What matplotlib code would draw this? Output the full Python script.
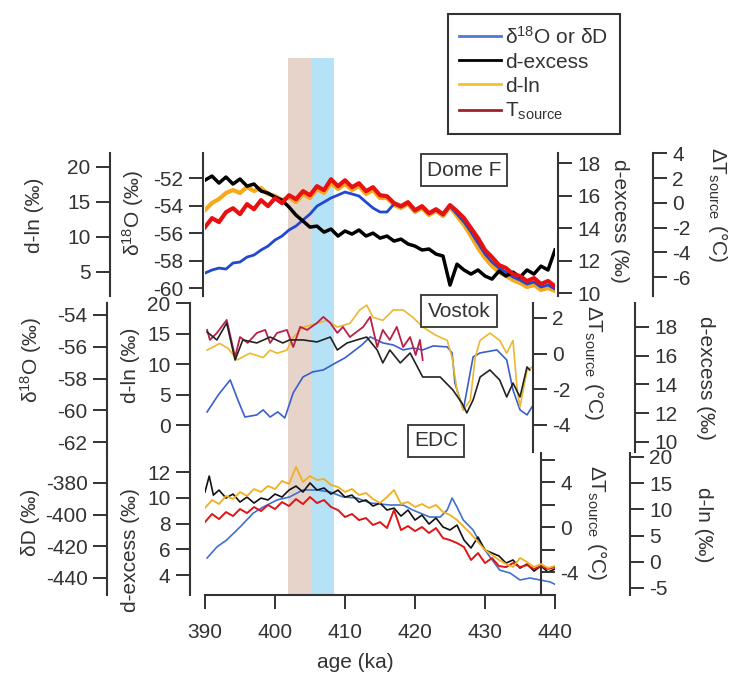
import matplotlib
matplotlib.use('Agg')
import matplotlib.pyplot as plt
import matplotlib.transforms as mtransforms
from matplotlib.patches import Rectangle
from matplotlib.lines import Line2D

plt.rcParams['font.family'] = ['Liberation Sans', 'DejaVu Sans']
plt.rcParams['font.size'] = 15
plt.rcParams['mathtext.fontset'] = 'custom'
plt.rcParams['mathtext.rm'] = 'Liberation Sans'
plt.rcParams['mathtext.it'] = 'Liberation Sans:italic'
plt.rcParams['axes.unicode_minus'] = False

# ---------------- data ----------------
# Dome F (1 ka steps)
domef_age = list(range(390, 441))
domef_d18o = [-58.91, -58.69, -58.55, -58.62, -58.18, -58.11, -57.75, -57.6, -57.24, -56.95,
              -56.51, -56.22, -55.78, -55.49, -55.05, -54.62, -54.04, -53.75, -53.45, -53.24,
              -53.02, -53.16, -53.31, -53.75, -54.18, -54.47, -54.47, -53.89, -54.11, -53.82,
              -54.4, -54.11, -54.62, -54.33, -54.69, -54.04, -54.62, -55.2, -55.93, -56.73,
              -57.53, -58.11, -58.55, -58.84, -59.2, -59.42, -59.71, -59.56, -59.93, -59.78, -60.07]
domef_dexcess = [16.95, 17.2, 16.77, 17.14, 16.71, 17.02, 16.58, 16.71, 16.28, 16.15,
                 15.91, 15.72, 15.29, 14.8, 14.43, 14.06, 14.12, 13.75, 13.94, 13.51,
                 13.82, 13.63, 13.88, 13.51, 13.69, 13.38, 13.51, 13.2, 13.32, 13.02,
                 12.89, 12.65, 12.71, 12.4, 12.28, 10.49, 11.78, 11.42, 11.17, 11.42,
                 11.05, 10.86, 11.35, 11.05, 11.29, 10.98, 11.42, 11.17, 11.66, 11.42, 12.65]
domef_dln = [13.86, 14.86, 15.43, 16.29, 16.71, 16.29, 17.14, 16.57, 17.0, 16.14,
             15.86, 15.29, 15.71, 15.0, 16.14, 15.57, 16.86, 16.29, 17.71, 16.86,
             17.57, 16.71, 17.29, 16.14, 16.71, 15.57, 15.57, 14.57, 14.14, 14.71,
             13.57, 14.14, 13.14, 13.71, 13.0, 14.29, 13.0, 11.71, 10.14, 8.43,
             7.0, 5.86, 5.0, 4.43, 3.86, 3.43, 2.86, 3.14, 2.43, 2.71, 2.29]
domef_tsource = [-1.97, -1.24, -1.56, -0.76, -0.44, -0.92, -0.11, -0.52, 0.21, -0.27,
                 0.37, -0.03, 0.61, 0.29, 0.94, 0.61, 1.34, 1.02, 1.9, 1.34,
                 1.82, 1.26, 1.58, 0.94, 1.26, 0.61, 0.53, -0.03, -0.27, 0.05,
                 -0.6, -0.27, -0.84, -0.52, -0.92, -0.19, -0.68, -1.24, -2.05, -2.85,
                 -3.82, -4.39, -5.03, -5.27, -5.76, -5.92, -6.32, -6.08, -6.56, -6.32, -6.73]

# Vostok
vostok_age_d18o = [390.3, 391.9, 393.6, 394.7, 395.7, 397.4, 398.3, 399.3, 400.4, 401.4,
                   402.6, 404.0, 405.4, 406.9, 408.9, 410.0, 411.1, 412.4, 413.6, 415.4,
                   416.9, 418.3, 419.7, 421.1, 422.6, 424.6, 425.3, 425.7, 426.9, 428.3,
                   429.3, 431.7, 433.1, 434.0, 435.0, 436.0, 436.7]
vostok_d18o = [-60.1, -59.03, -58.09, -59.35, -60.42, -60.29, -59.97, -60.42, -60.1, -60.48,
               -58.9, -57.9, -57.58, -57.46, -56.96, -56.7, -56.33, -55.89, -55.38, -55.76,
               -55.89, -56.2, -56.08, -56.2, -55.95, -56.01, -56.39, -58.28, -59.97, -56.64,
               -56.39, -56.2, -56.83, -58.72, -59.97, -60.29, -59.79]
vostok_age_dln = [390.3, 392.1, 393.3, 394.6, 396.4, 398.3, 399.3, 400.3, 401.7, 402.6,
                  404.0, 406.0, 407.4, 408.9, 410.7, 412.1, 413.1, 414.0, 415.4, 416.9,
                  418.3, 419.7, 421.1, 422.9, 424.6, 425.3, 426.0, 426.9, 427.9, 428.6,
                  429.3, 430.7, 432.1, 433.1, 434.0, 434.6, 435.0, 436.0, 436.7]
vostok_dln = [12.3, 13.4, 12.6, 10.7, 11.8, 11.1, 12.3, 11.8, 12.3, 14.4,
              16.1, 16.7, 17.2, 16.1, 16.7, 18.9, 19.7, 17.7, 17.2, 18.9,
              18.9, 17.7, 16.1, 14.8, 13.9, 11.1, 5.7, 2.5, 4.1, 11.1,
              13.9, 15.1, 13.9, 11.8, 13.9, 5.7, 3.0, 9.0, 9.5]
vostok_age_tsource = [390.3, 390.7, 391.7, 393.1, 394.3, 395.0, 396.1, 397.4, 398.6, 399.3,
                      400.3, 401.7, 402.6, 403.6, 404.6, 406.0, 406.9, 407.9, 408.9, 409.7,
                      410.7, 412.6, 413.6, 414.6, 415.4, 416.4, 417.4, 418.3, 419.3, 420.1,
                      420.7, 421.1]
vostok_tsource = [1.33, 0.77, 1.16, 1.89, -0.19, 0.93, 0.6, 1.16, 1.33, 0.6,
                  1.16, 1.33, 0.37, 1.5, 1.33, 1.72, 2.06, 1.72, 1.16, 1.5,
                  0.93, 1.5, 2.06, 0.37, 1.33, 0.77, 1.5, 0.37, 0.93, -0.08,
                  0.77, -0.36]
vostok_age_dexcess = [390.3, 391.7, 393.1, 394.3, 395.4, 397.4, 399.3, 401.1, 402.1, 404.0,
                      406.0, 407.9, 408.9, 410.3, 411.7, 413.1, 414.6, 415.4, 416.4, 417.9,
                      419.3, 421.1, 423.6, 425.4, 426.7, 427.4, 428.3, 429.3, 430.7, 432.1,
                      433.1, 434.0, 435.0, 436.0, 436.4]
vostok_dexcess = [17.65, 17.1, 18.28, 15.7, 17.1, 16.89, 17.3, 16.89, 17.1, 17.1,
                  16.96, 17.3, 16.4, 16.89, 17.1, 17.3, 16.4, 15.5, 16.4, 15.5,
                  16.19, 14.52, 14.52, 13.62, 12.71, 12.02, 12.92, 14.52, 15.01, 14.31,
                  13.13, 14.1, 13.13, 15.22, 15.01]

# EDC
edc_age_dd = [390.3, 391.7, 393.1, 395.0, 396.9, 398.3, 400.3, 402.1, 404.0, 406.0,
              407.9, 409.7, 411.7, 413.6, 416.4, 418.3, 419.7, 422.1, 423.6, 424.6,
              425.3, 426.0, 426.9, 428.3, 429.3, 430.7, 432.1, 433.6, 435.0, 436.4,
              437.9, 439.3, 440.0]
edc_dd = [-427.4, -420.4, -416.0, -407.8, -399.0, -395.2, -390.7, -388.8, -384.4, -384.4,
          -385.7, -388.8, -389.5, -392.6, -393.9, -393.9, -397.1, -401.5, -401.5, -397.1,
          -389.5, -395.2, -403.4, -409.7, -417.9, -426.7, -435.0, -436.9, -441.3, -440.0,
          -441.3, -442.5, -444.0]
edc_age_dexcess = [390.0, 390.6, 391.2] + list(range(392, 441))
edc_dexcess = [10.45, 11.69, 10.21, 10.6, 9.98, 10.29, 9.67, 10.06, 9.59, 9.98,
               9.83, 10.29, 10.06, 10.6, 10.91, 10.45, 11.15, 10.6, 10.76, 10.29,
               10.6, 10.06, 10.21, 9.67, 9.83, 9.36, 9.59, 9.05, 9.2, 8.58,
               9.05, 8.27, 8.66, 7.96, 8.43, 7.73, 7.5, 7.88, 6.72, 6.1,
               6.95, 5.94, 5.71, 5.48, 4.93, 5.17, 4.54, 4.85, 4.31, 4.7,
               4.23, 4.47]
edc_age = list(range(390, 441))
edc_tsource = [0.44, 1.16, 0.71, 1.33, 0.98, 1.6, 1.24, 1.78, 1.42, 1.96,
               1.6, 2.22, 1.87, 2.49, 2.04, 2.67, 2.13, 2.4, 1.78, 1.51,
               0.89, 1.16, 0.62, 0.8, 0.18, 0.44, -0.09, 1.51, -0.27, 0.09,
               -0.36, 0.0, -0.53, -0.09, -0.98, -1.16, -1.42, -1.78, -2.93, -2.31,
               -3.2, -2.76, -3.47, -3.56, -3.2, -3.56, -3.38, -3.73, -3.47, -3.73, -3.56]
edc_dln = [10.27, 11.79, 11.03, 12.56, 11.98, 13.32, 12.56, 13.89, 13.32, 14.47,
           13.89, 15.42, 14.85, 18.09, 15.23, 16.37, 15.61, 15.8, 14.66, 14.27,
           13.32, 13.89, 12.75, 13.13, 11.98, 11.22, 12.37, 13.7, 11.03, 11.41,
           10.46, 11.03, 10.27, 10.84, 9.5, 8.93, 7.98, 6.64, 5.31, 3.78,
           2.25, 1.3, 0.34, -0.42, -0.99, 0.73, -0.04, -0.99, -0.42, -1.18, -0.8]

# shaded intervals (ka)
band_beige = (401.9, 405.2)
band_blue = (405.2, 408.4)

# ---------------- layout helpers ----------------
W, H = 733, 676
fig = plt.figure(figsize=(W / 100, H / 100), dpi=100)
X0, X1 = 205, 555
INK = '#333333'


def px(x, y):
    return x / W, 1 - y / H


def make_ax(ytop, ybot, ylim, side, pos, ticks, minor=None):
    rect = [X0 / W, 1 - ybot / H, (X1 - X0) / W, (ybot - ytop) / H]
    ax = fig.add_axes(rect)
    ax.set_facecolor('none')
    ax.set_xlim(390, 440)
    ax.set_ylim(*ylim)
    for s in ax.spines.values():
        s.set_visible(False)
    sp = ax.spines[side]
    sp.set_visible(True)
    sp.set_position(('axes', pos))
    sp.set_color(INK)
    sp.set_linewidth(1.5)
    ax.yaxis.set_ticks_position(side)
    ax.set_yticks(ticks)
    if minor is not None:
        ax.set_yticks(minor, minor=True)
    ax.tick_params(axis='y', which='both', direction='out', length=10, width=1.4,
                   pad=4, colors=INK, labelsize=15)
    ax.tick_params(axis='x', bottom=False, labelbottom=False)
    return ax


# ---------------- Dome F ----------------
T0, T1 = 153, 296
a_dln = make_ax(T0, T1, (1.57, 22.0), 'left', -0.271, [5, 10, 15, 20])
a_d18 = make_ax(T0, T1, (-60.58, -50.18), 'left', -0.006, [-60, -58, -56, -54, -52])
a_dex = make_ax(T0, T1, (9.82, 18.62), 'right', 1.009, [10, 12, 14, 16, 18])
a_ts = make_ax(T0, T1, (-7.53, 4.02), 'right', 1.28, [-6, -4, -2, 0, 2, 4])
a_d18.plot(domef_age, domef_d18o, color='#2048d0', lw=2.0, zorder=1)
a_dln.plot(domef_age, domef_dln, color='#f7a81b', lw=3.0, zorder=2)
a_ts.plot(domef_age, domef_tsource, color='#e81010', lw=3.0, zorder=3)
a_dex.plot(domef_age, domef_dexcess, color='#000000', lw=2.5, zorder=4)

# ---------------- Vostok ----------------
M0, M1 = 303, 452
v_d18 = make_ax(M0, M1, (-62.62, -53.25), 'left', -0.28, [-62, -60, -58, -56, -54])
v_dln = make_ax(M0, M1, (-4.43, 20.05), 'left', -0.043, [0, 5, 10, 15, 20])
v_ts = make_ax(M0, M1, (-5.52, 2.84), 'right', 0.937, [-4, -2, 0, 2])
v_dex = make_ax(M0, M1, (9.3, 19.67), 'right', 1.229, [10, 12, 14, 16, 18])
v_d18.plot(vostok_age_d18o, vostok_d18o, color='#3a5fcd', lw=1.2)
v_dln.plot(vostok_age_dln, vostok_dln, color='#ecb830', lw=1.2)
v_ts.plot(vostok_age_tsource, vostok_tsource, color='#b8204a', lw=1.3)
v_dex.plot(vostok_age_dexcess, vostok_dexcess, color='#222222', lw=1.2)

# ---------------- EDC ----------------
B0, B1 = 453, 595
e_dd = make_ax(B0, B1, (-450.75, -361.05), 'left', -0.28, [-440, -420, -400, -380])
e_dex = make_ax(B0, B1, (2.45, 13.48), 'left', -0.043, [4, 6, 8, 10, 12])
e_ts = make_ax(B0, B1, (-6.04, 6.58), 'right', 0.96, [-4, 0, 4], minor=[-6, -2, 2, 6])
e_dln = make_ax(B0, B1, (-6.34, 20.76), 'right', 1.214, [-5, 0, 5, 10, 15, 20])
e_dd.plot(edc_age_dd, edc_dd, color='#4070d0', lw=1.2)
e_dln.plot(edc_age, edc_dln, color='#f0b020', lw=1.3)
e_ts.plot(edc_age, edc_tsource, color='#e01515', lw=1.4)
e_dex.plot(edc_age_dexcess, edc_dexcess, color='#111111', lw=1.2)

# x axis
ax_x = fig.add_axes([X0 / W, 1 - B1 / H, (X1 - X0) / W, (B1 - B0) / H])
ax_x.set_facecolor('none')
ax_x.set_xlim(390, 440)
for k in ['left', 'right', 'top']:
    ax_x.spines[k].set_visible(False)
ax_x.spines['bottom'].set_color(INK)
ax_x.spines['bottom'].set_linewidth(1.5)
ax_x.set_yticks([])
ax_x.set_xticks([390, 400, 410, 420, 430, 440])
ax_x.tick_params(axis='x', direction='out', length=10, width=1.4, pad=10, colors=INK, labelsize=15)
fig.text(*px(355, 663), 'age (ka)', ha='center', va='center', color=INK)

# shaded bands spanning all panels
trans = mtransforms.blended_transform_factory(a_d18.transData, fig.transFigure)
ytop_f, ybot_f = 1 - 58 / H, 1 - 595 / H
for (b0, b1), c in [(band_beige, '#e6d3c9'), (band_blue, '#b6e2f7')]:
    fig.patches.append(Rectangle((b0, ybot_f), b1 - b0, ytop_f - ybot_f, transform=trans,
                                 facecolor=c, edgecolor='none', zorder=-1))

# axis labels
labels = [
    ('d-ln (‰)', 35, 215, 90), ('δ$^{18}$O (‰)', 133, 213, 90),
    ('d-excess (‰)', 620, 221, 270), ('ΔT$_{\\mathrm{source}}$ (°C)', 718, 205, 270),
    ('δ$^{18}$O (‰)', 31, 360, 90), ('d-ln (‰)', 131, 365, 90),
    ('ΔT$_{\\mathrm{source}}$ (°C)', 594, 363, 270), ('d-excess (‰)', 706, 378, 270),
    ('δD (‰)', 30, 522, 90), ('d-excess (‰)', 131, 550, 90),
    ('ΔT$_{\\mathrm{source}}$ (°C)', 597, 523, 270), ('d-ln (‰)', 704, 525, 270),
]
for txt, x, y, rot in labels:
    fig.text(*px(x, y), txt, rotation=rot, ha='center', va='center', color=INK)

# site boxes
for name, x, y in [('Dome F', 464, 170), ('Vostok', 459, 311), ('EDC', 436, 441)]:
    fig.text(*px(x, y), name, ha='center', va='center', color=INK, zorder=6,
             bbox=dict(boxstyle='square,pad=0.3', fc='white', ec=INK, lw=1.3))

# legend
handles = [Line2D([], [], color='#5078d8', lw=2), Line2D([], [], color='#000000', lw=2),
           Line2D([], [], color='#f7c030', lw=2), Line2D([], [], color='#a02030', lw=2)]
names = ['δ$^{18}$O or δD', 'd-excess', 'd-ln', 'T$_{\\mathrm{source}}$']
leg = fig.legend(handles, names, loc='upper left', bbox_to_anchor=px(448, 14),
                 frameon=True, fancybox=False, edgecolor=INK, framealpha=1,
                 borderaxespad=0, handlelength=2.0, handletextpad=0.2,
                 labelspacing=0.25, borderpad=0.55, fontsize=15)
leg.get_frame().set_linewidth(1.5)
for t in leg.get_texts():
    t.set_color(INK)

fig.savefig('out.png', dpi=100)
